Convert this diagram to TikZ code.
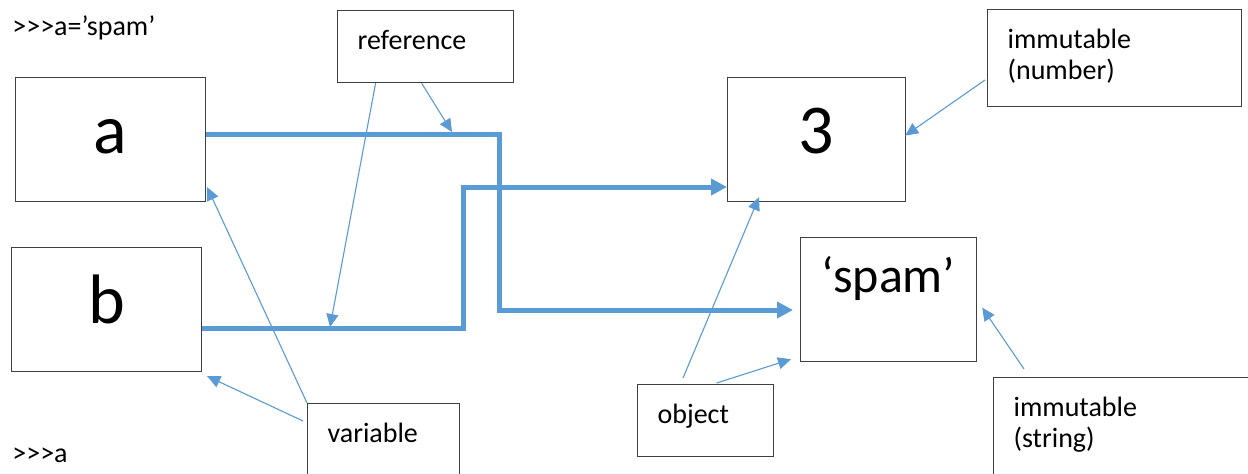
\documentclass[tikz,border=0pt]{standalone}
\usepackage{fontspec}
\setmainfont{Carlito}
\usetikzlibrary{arrows.meta, positioning}
\definecolor{refblue}{HTML}{5B9BD5}
\definecolor{edge}{HTML}{3F3F3F}

\begin{document}
\begin{tikzpicture}[
    x=0.5pt, y=-0.5pt,
    every node/.style={font=\fontsize{14}{15.5}\selectfont},
    bigbox/.style={rectangle, draw=edge, line width=0.6pt, anchor=north west, inner ysep=0pt, text height=38pt, text depth=24pt, font=\fontsize{35}{42}\selectfont},
    note/.style={rectangle, draw=edge, line width=0.6pt, anchor=north west, align=left, inner xsep=10pt, inner ysep=0pt, text height=19.5pt},
    link/.style={-{Triangle[length=8pt, width=8pt]}, line width=2.5pt, draw=refblue},
    hint/.style={-{Triangle[length=6.5pt, width=6pt]}, line width=0.55pt, draw=refblue}
]
\path[use as bounding box, fill=white] (0,0) rectangle (1248,473);
\clip (0,0) rectangle (1248,473);

% Shell lines (braces keep > > > from turning into a guillemet)
\node[anchor=base west, inner sep=0pt] (cmd1) at (12,35) {>{}>{}>a=’spam’};
\node[anchor=base west, inner sep=0pt] (cmd2) at (12,462) {>{}>{}>a};

% Variables
\node[bigbox, minimum width=95pt] (a) at (15,77) {a};
\node[bigbox, minimum width=95pt] (b) at (11,247) {b};

% Objects
\node[bigbox, minimum width=89pt] (three) at (727,77) {3};
\node[bigbox, minimum width=88pt, text height=27.5pt, text depth=34.5pt, font=\fontsize{25}{30}\selectfont] (spam) at (800,237) {‘spam’};

% Notes
\node[note, text width=68pt, text depth=16.5pt] (ref) at (337,10) {reference};
\node[note, text width=107pt, text depth=29pt] (imnum) at (987,9) {immutable\\(number)};
\node[note, text width=56pt, text depth=20.5pt] (var) at (307,403) {variable};
\node[note, text width=48pt, text depth=16.5pt] (obj) at (637,384) {object};
\node[note, text width=111pt, text depth=33.5pt] (imstr) at (993,377) {immutable\\(string)};

% References (crossing)
\draw[link, shorten >=3.5pt] (a.east |- 0,134) -- (499,134) -- (499,310) -- (spam.west |- 0,310);
\draw[link] (b.east |- 0,328) -- (463,328) -- (463,187) -- (three.west |- 0,187);
\coordinate (onA) at (452,132);
\coordinate (onB) at (330,327);

% Pointers from the notes
\draw[hint] ([xshift=-2pt]ref.south) -- (onA);
\draw[hint] ([xshift=-25pt]ref.south) -- (onB);
\draw[hint] (var.north west) -- ([shift={(1,-15)}]a.south east);
\draw[hint] ([shift={(-4,18)}]var.north west) -- ([shift={(5,4)}]b.south east);
\draw[hint] ([shift={(46,-6)}]obj.north west) -- ([shift={(32,-5)}]three.south west);
\draw[hint] ([shift={(11,-1)}]obj.north) -- ([shift={(-9,-3)}]spam.south west);
\draw[hint] ([shift={(-2,71)}]imnum.north west) -- ([shift={(-1,-4)}]three.east);
\draw[hint] ([shift={(31,-8)}]imstr.north west) -- ([shift={(5,8)}]spam.east);
\end{tikzpicture}
\end{document}
